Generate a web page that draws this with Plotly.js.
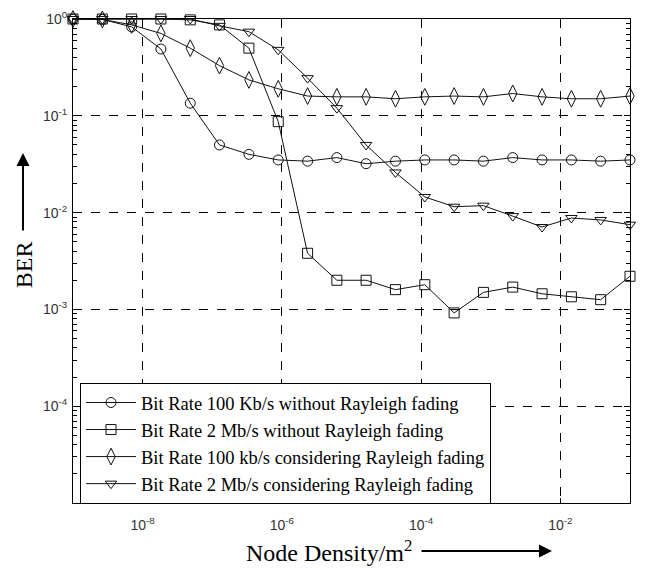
<!DOCTYPE html>
<html>
<head>
<meta charset="utf-8">
<script src="https://cdn.plot.ly/plotly-3.0.1.min.js"></script>
<style>html,body{margin:0;padding:0;background:#fff;}#chart{width:648px;height:569px;}</style>
</head>
<body>
<div id="chart"></div>
<script>
// Node density (per m^2)
var density = [1e-9, 2.64e-9, 6.95e-9, 1.83e-8, 4.83e-8, 1.27e-7, 3.36e-7, 8.86e-7, 2.34e-6, 6.16e-6,
               1.62e-5, 4.28e-5, 1.13e-4, 2.98e-4, 7.85e-4, 2.07e-3, 5.46e-3, 1.44e-2, 3.79e-2, 1.0e-1];

var berA = [1.0, 0.99, 0.83, 0.49, 0.135, 0.050, 0.040, 0.035, 0.034, 0.037,
            0.032, 0.034, 0.035, 0.035, 0.034, 0.037, 0.035, 0.035, 0.034, 0.035];
var berB = [1.0, 1.0, 1.0, 1.0, 0.98, 0.87, 0.50, 0.087, 0.0038, 0.0020,
            0.0020, 0.0016, 0.0018, 0.00092, 0.0015, 0.0017, 0.00145, 0.00135, 0.00126, 0.0022];
var berC = [1.0, 0.99, 0.87, 0.71, 0.50, 0.33, 0.235, 0.19, 0.16, 0.157,
            0.157, 0.15, 0.157, 0.16, 0.157, 0.17, 0.157, 0.15, 0.15, 0.16];
var berD = [1.0, 1.0, 1.0, 1.0, 1.0, 0.85, 0.74, 0.48, 0.245, 0.12,
            0.050, 0.026, 0.0145, 0.0115, 0.0118, 0.0092, 0.0071, 0.0088, 0.0084, 0.0075];

var seriesNames = [
  'Bit Rate 100 Kb/s without Rayleigh fading',
  'Bit Rate 2 Mb/s without Rayleigh fading',
  'Bit Rate 100 kb/s considering Rayleigh fading',
  'Bit Rate 2 Mb/s considering Rayleigh fading'
];
var xTickVals = [1e-8, 1e-6, 1e-4, 1e-2];
var xTickText = ['10<sup>-8</sup>', '10<sup>-6</sup>', '10<sup>-4</sup>', '10<sup>-2</sup>'];
var yTickVals = [1e-4, 1e-3, 1e-2, 1e-1, 1];
var yTickText = ['10<sup>-4</sup>', '10<sup>-3</sup>', '10<sup>-2</sup>', '10<sup>-1</sup>', '10<sup>0</sup>'];

var yMinor = [];
for (var e = -5; e < 0; e++) { for (var m = 2; m <= 9; m++) { yMinor.push(m * Math.pow(10, e)); } }

var symbols = ['circle-open', 'square-open', 'diamond-tall-open', 'triangle-down-open'];
var sizes = [10, 10, 12, 10];
var ys = [berA, berB, berC, berD];

var traces = ys.map(function (y, k) {
  return {
    x: density, y: y, type: 'scatter', mode: 'lines+markers', name: seriesNames[k],
    line: {color: '#111', width: 1},
    marker: {symbol: symbols[k], size: sizes[k], color: '#111', line: {color: '#111', width: 1}},
    cliponaxis: false
  };
});

var axisFont = {family: 'Liberation Sans, Arial, sans-serif', size: 14, color: '#333'};

var layout = {
  width: 648, height: 569,
  margin: {l: 73, r: 18, t: 19, b: 66},
  paper_bgcolor: '#fff', plot_bgcolor: '#fff',
  showlegend: true,
  legend: {
    x: 0.0126, y: 0.248, xanchor: 'left', yanchor: 'top',
    bgcolor: '#fff', bordercolor: '#000', borderwidth: 1,
    font: {family: 'Liberation Serif, Times New Roman, serif', size: 18.5, color: '#000'},
    tracegroupgap: 0, itemwidth: 50
  },
  xaxis: {
    type: 'log', range: [-9.0001, -0.9999], tickmode: 'array', tickvals: xTickVals, ticktext: xTickText,
    ticks: 'inside', ticklen: 5, tickcolor: '#000', showline: true, linecolor: '#000', linewidth: 1,
    mirror: 'ticks', showgrid: true, gridcolor: '#000', gridwidth: 1, griddash: 'dash',
    tickfont: axisFont, zeroline: false, ticklabelstandoff: 9
  },
  yaxis: {
    type: 'log', range: [-5, 0.0001], tickmode: 'array', tickvals: yTickVals, ticktext: yTickText,
    ticks: 'inside', ticklen: 6, tickcolor: '#000', showline: true, linecolor: '#000', linewidth: 1,
    mirror: 'ticks', showgrid: true, gridcolor: '#000', gridwidth: 1, griddash: 'dash',
    tickfont: axisFont, zeroline: false, ticklabelstandoff: 2,
    minor: {tickmode: 'array', tickvals: yMinor, ticks: 'inside', ticklen: 4, tickcolor: '#000', showgrid: false}
  },
  annotations: [
    {xref: 'paper', yref: 'paper', x: 0.460, y: -0.1, xanchor: 'center', yanchor: 'middle',
     text: 'Node Density/m<sup>2</sup>', showarrow: false,
     font: {family: 'Liberation Serif, Times New Roman, serif', size: 24, color: '#000'}},
    {xref: 'paper', yref: 'paper', x: -0.0864, y: 0.493, xanchor: 'center', yanchor: 'middle',
     text: 'BER', textangle: -90, showarrow: false,
     font: {family: 'Liberation Serif, Times New Roman, serif', size: 24, color: '#000'}},
    {xref: 'paper', yref: 'paper', x: 0.86, y: -0.099, ax: -132, ay: 0, text: '', showarrow: true,
     arrowhead: 2, arrowsize: 1.3, arrowwidth: 2, arrowcolor: '#000'},
    {xref: 'paper', yref: 'paper', x: -0.0898, y: 0.723, ax: 0, ay: 79, text: '', showarrow: true,
     arrowhead: 2, arrowsize: 1.3, arrowwidth: 2, arrowcolor: '#000'}
  ]
};

Plotly.newPlot('chart', traces, layout, {displayModeBar: false, staticPlot: true});
</script>
</body>
</html>
